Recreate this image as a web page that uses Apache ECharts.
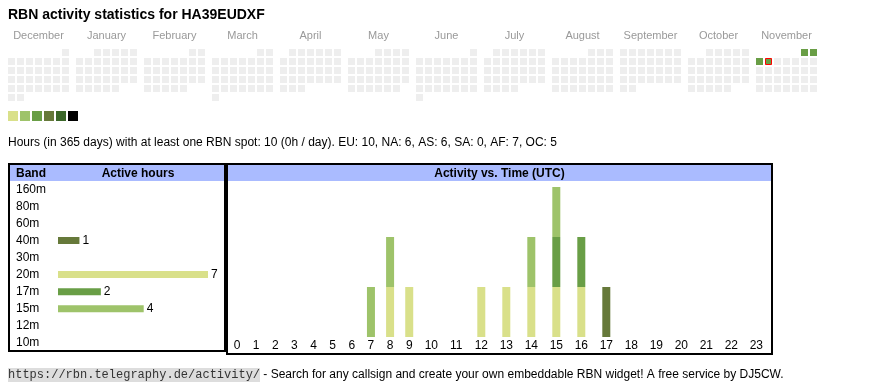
<!DOCTYPE html>
<html><head><meta charset="utf-8">
<script src="https://cdn.jsdelivr.net/npm/echarts@6/dist/echarts.min.js"></script>
<style>html,body{margin:0;padding:0;background:#fff}#c{width:870px;height:390px}</style>
</head><body><div id="c"></div>
<script>
// ---------- data ----------
const callsign = 'HA39EUDXF';
const monthNames = ['December','January','February','March','April','May','June','July','August','September','October','November'];
const calendarStartYear = 2024;
const calendarStartMonth = 11; // December (0-based)
const activeDates = ['2025-11-01','2025-11-02','2025-11-03','2025-11-04'];
const activeLevels = [3, 3, 3, 3];
const todayDate = '2025-11-04';
const levelColors = ['#d9e08a','#9ec36a','#699e46','#66793a','#3b6729','#000000'];

const periodDays = 365;
const totalHours = 10;
const hoursPerDay = 0;
const continents = ['EU','NA','AS','SA','AF','OC'];
const continentHours = [10, 6, 6, 0, 7, 5];

const bandNames = ['160m','80m','60m','40m','30m','20m','17m','15m','12m','10m'];
const bandActiveHours = [0, 0, 0, 1, 0, 7, 2, 4, 0, 0];
const bandColors = ['#3b6729','#000000','#3b6729','#66793a','#699e46','#d9e08a','#699e46','#9ec36a','#d9e08a','#9ec36a'];

const hourLabels = ['0','1','2','3','4','5','6','7','8','9','10','11','12','13','14','15','16','17','18','19','20','21','22','23'];
const hourly40m = [0,0,0,0,0,0,0,0,0,0,0,0,0,0,0,0,0,1,0,0,0,0,0,0];
const hourly20m = [0,0,0,0,0,0,0,0,1,1,0,0,1,1,1,1,1,0,0,0,0,0,0,0];
const hourly17m = [0,0,0,0,0,0,0,0,0,0,0,0,0,0,0,1,1,0,0,0,0,0,0,0];
const hourly15m = [0,0,0,0,0,0,0,1,1,0,0,0,0,0,1,1,0,0,0,0,0,0,0,0];
const hourlyBands = ['40m','20m','17m','15m'];
const hourlySeriesData = [hourly40m, hourly20m, hourly17m, hourly15m];

const footerUrl = 'https://rbn.telegraphy.de/activity/';
const footerText = ' - Search for any callsign and create your own embeddable RBN widget! A free service by DJ5CW.';

// ---------- layout constants ----------
const SANS = "'Liberation Sans', Arial, sans-serif";
const MONO = "'Liberation Mono', 'Courier New', monospace";
const CELL = 7, PITCH = 9, BLOCK = 68;
const COL_PAD = 13.28, COL_DIGIT = 5.86; // table column = padding + digits
const HX0 = 227.4;

// calendar cells
const pad2 = n => (n < 10 ? '0' : '') + n;
const calData = [];
for (let m = 0; m < monthNames.length; m++) {
  const y = calendarStartYear + Math.floor((calendarStartMonth + m) / 12);
  const mo = (calendarStartMonth + m) % 12;
  const firstWd = (new Date(Date.UTC(y, mo, 1)).getUTCDay() + 6) % 7;
  const nDays = new Date(Date.UTC(y, mo + 1, 0)).getUTCDate();
  for (let d = 1; d <= nDays; d++) {
    const idx = firstWd + d - 1;
    const key = y + '-' + pad2(mo + 1) + '-' + pad2(d);
    const ai = activeDates.indexOf(key);
    calData.push([m * BLOCK + (idx % 7) * PITCH, Math.floor(idx / 7) * PITCH,
      ai >= 0 ? activeLevels[ai] : 0, key === todayDate ? 1 : 0]);
  }
}

// hour columns (auto width like an html table)
const hourCenters = [];
let acc = 0;
hourLabels.forEach(l => { const w = COL_PAD + l.length * COL_DIGIT; hourCenters.push(acc + w / 2); acc += w; });
const HW = acc;
const maxStack = Math.max(...hourLabels.map((_, h) => hourlySeriesData.reduce((s, a) => s + a[h], 0)));
const maxBand = Math.max(...bandActiveHours);

const summary = 'Hours (in ' + periodDays + ' days) with at least one RBN spot: ' + totalHours +
  ' (' + hoursPerDay + 'h / day). ' + continents.map((c, i) => c + ': ' + continentHours[i]).join(', ');

function txt(x, y, text, opts) {
  return { type: 'text', x, y, silent: true, z: 10,
    style: Object.assign({ text, fill: '#000', fontSize: 12, fontFamily: SANS, verticalAlign: 'middle', align: 'left' }, opts || {}) };
}

const graphics = [
  txt(8, 15.5, 'RBN activity statistics for ' + callsign, { fontSize: 14, fontWeight: 'bold' }),
  txt(8, 142.5, summary),
  // header fills
  { type: 'rect', shape: { x: 10, y: 165, width: 214, height: 16 }, style: { fill: '#aabbff' }, silent: true },
  { type: 'rect', shape: { x: 228, y: 165, width: 543, height: 16 }, style: { fill: '#aabbff' }, silent: true },
  // borders
  { type: 'rect', shape: { x: 9, y: 164, width: 216, height: 187 }, style: { fill: 'none', stroke: '#000', lineWidth: 2 }, silent: true, z: 5 },
  { type: 'rect', shape: { x: 227, y: 164, width: 545, height: 190 }, style: { fill: 'none', stroke: '#000', lineWidth: 2 }, silent: true, z: 5 },
  txt(16, 173.5, 'Band', { fontWeight: 'bold' }),
  txt(138, 173.5, 'Active hours', { fontWeight: 'bold', align: 'center' }),
  txt(499.5, 173.5, 'Activity vs. Time (UTC)', { fontWeight: 'bold', align: 'center' }),
  // footer
  { type: 'rect', shape: { x: 8, y: 368, width: 252, height: 14 }, style: { fill: '#dddddd' }, silent: true },
  txt(8, 375, footerUrl, { fontFamily: MONO, fill: '#333' }),
  txt(260, 375, footerText)
];
levelColors.forEach((c, i) => graphics.push({ type: 'rect', silent: true,
  shape: { x: 8 + i * 12, y: 111, width: 10, height: 10 }, style: { fill: c } }));

const series = [
  { type: 'custom', xAxisIndex: 0, yAxisIndex: 0, data: calData, silent: true,
    renderItem(params, api) {
      const p0 = api.coord([api.value(0), api.value(1)]);
      const p1 = api.coord([api.value(0) + CELL, api.value(1) + CELL]);
      const lvl = api.value(2);
      const fill = lvl > 0 ? levelColors[lvl - 1] : '#eeeeee';
      const w = p1[0] - p0[0], h = p1[1] - p0[1];
      if (api.value(3)) return { type: 'rect', shape: { x: p0[0] + 0.5, y: p0[1] + 0.5, width: w - 1, height: h - 1 }, style: { fill, stroke: '#ff0000', lineWidth: 1 } };
      return { type: 'rect', shape: { x: p0[0], y: p0[1], width: w, height: h }, style: { fill } };
    } },
  { type: 'bar', xAxisIndex: 1, yAxisIndex: 1, barWidth: 7, silent: true,
    data: bandActiveHours.map((v, i) => v > 0 ? { value: v, itemStyle: { color: bandColors[i] } } : '-'),
    label: { show: true, position: 'right', distance: 3, color: '#000', fontSize: 12, fontFamily: SANS } }
];
hourlyBands.forEach((b, k) => {
  series.push({ type: 'bar', name: b, stack: 'hours', xAxisIndex: 2, yAxisIndex: 2, barWidth: 8, silent: true,
    itemStyle: { color: bandColors[bandNames.indexOf(b)] },
    encode: { x: 1, y: 0 },
    dimensions: [{ name: 'count', type: 'number' }, { name: 'pos', type: 'number' }],
    data: hourlySeriesData[k].map((v, h) => [v, hourCenters[h]]) });
});

const monthCenters = monthNames.map((_, m) => m * BLOCK + (6 * PITCH + CELL) / 2);
const nearest = (arr, v) => { let bi = 0; arr.forEach((a, i) => { if (Math.abs(a - v) < Math.abs(arr[bi] - v)) bi = i; }); return bi; };

const option = {
  animation: false,
  graphic: graphics,
  grid: [
    { left: 8, top: 49, width: BLOCK * 12, height: 6 * PITCH },
    { left: 58, top: 180.8, width: 150, height: 170.5 },
    { left: HX0, top: 187, width: HW, height: 150 }
  ],
  xAxis: [
    { gridIndex: 0, type: 'value', min: 0, max: BLOCK * 12, position: 'top',
      axisLine: { show: false }, axisTick: { show: false }, splitLine: { show: false },
      axisLabel: { customValues: monthCenters, formatter: v => monthNames[nearest(monthCenters, v)],
        color: '#999', fontSize: 11, fontFamily: SANS, margin: 8 } },
    { gridIndex: 1, type: 'value', min: 0, max: maxBand, show: false },
    { gridIndex: 2, type: 'value', min: 0, max: HW,
      axisLine: { show: false }, axisTick: { show: false }, splitLine: { show: false },
      axisLabel: { customValues: hourCenters, formatter: v => hourLabels[nearest(hourCenters, v)],
        color: '#000', fontSize: 12, fontFamily: SANS, margin: 3 } }
  ],
  yAxis: [
    { gridIndex: 0, type: 'value', min: 0, max: 6 * PITCH, inverse: true, show: false },
    { gridIndex: 1, type: 'category', data: bandNames, inverse: true,
      axisLine: { show: false }, axisTick: { show: false }, splitLine: { show: false },
      axisLabel: { align: 'left', margin: 42, interval: 0, color: '#000', fontSize: 12, fontFamily: SANS } },
    { gridIndex: 2, type: 'value', min: 0, max: maxStack, show: false }
  ],
  series
};
echarts.init(document.getElementById('c'), null, { renderer: 'canvas' }).setOption(option);
</script></body></html>
